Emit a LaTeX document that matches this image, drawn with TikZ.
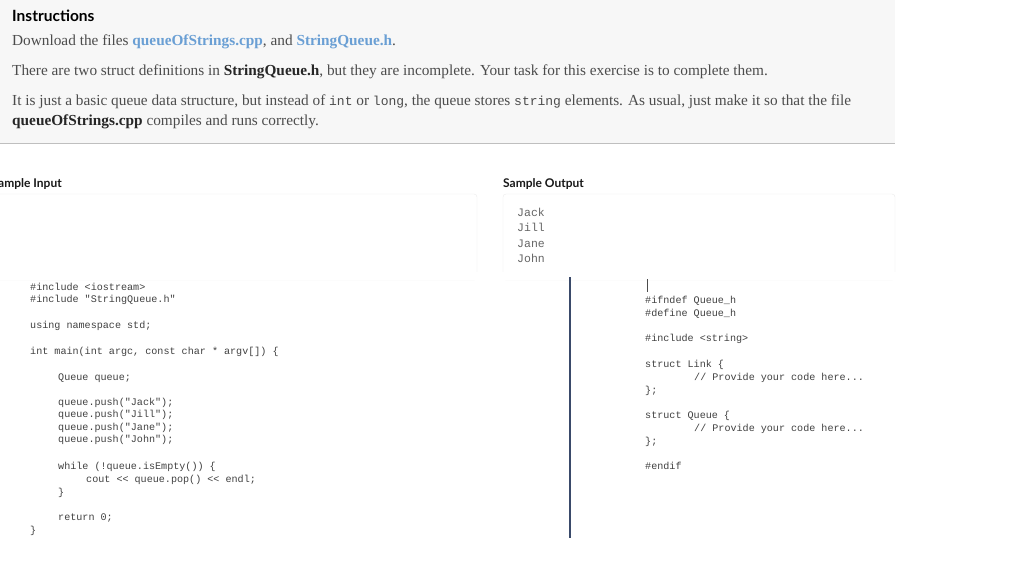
\documentclass[tikz,border=0pt]{standalone}
\usepackage{fontspec}
\setmainfont{Liberation Serif}
\newfontfamily\latofont{Lato}
\newfontfamily\codefont{Liberation Mono}
\begin{document}
\begin{tikzpicture}[x=1pt,y=-1pt,
  txt/.style={anchor=base west,inner sep=0pt,font=\fontsize{15.3}{17}\selectfont,text=black!70},
  hdr/.style={anchor=base west,inner sep=0pt,font=\latofont\bfseries\fontsize{12}{14}\selectfont,text=black!90},
  code/.style={anchor=base west,inner sep=0pt,font=\codefont\fontsize{10.1}{12}\selectfont,text=black!75},
  outc/.style={anchor=base west,inner sep=0pt,font=\codefont\fontsize{11.5}{13}\selectfont,text=black!60}]
\definecolor{linkc}{HTML}{6A9FD4}
\definecolor{panel}{HTML}{F7F7F7}
\definecolor{vline}{HTML}{3A4A6A}
\newcommand{\cd}[1]{{\codefont\fontsize{13}{14}\selectfont #1}}
\useasboundingbox (0,0) rectangle (1024,574);
\fill[white] (0,0) rectangle (1024,574);
\fill[panel] (0,0) rectangle (895,143);
\draw[black!25,line width=1pt] (0,143) -- (895,143);
\node[anchor=base west,inner sep=0pt,font=\latofont\bfseries\fontsize{15.5}{18}\selectfont] (t0) at (12,21) {Instructions};
\node[txt] (t1) at (12,45) {Download the files \textcolor{linkc}{\textbf{queueOfStrings.cpp}}, and \textcolor{linkc}{\textbf{StringQueue.h}}.};
\node[txt] (t2) at (12,75) {There are two struct definitions in \textbf{\color{black!85}StringQueue.h}, but they are incomplete. Your task for this exercise is to complete them.};
\node[txt] (t3) at (12,105) {It is just a basic queue data structure, but instead of \cd{int} or \cd{long}, the queue stores \cd{string} elements. As usual, just make it so that the file};
\node[txt] (t4) at (12,125) {\textbf{\color{black!85}queueOfStrings.cpp} compiles and runs correctly.};
\node[hdr] (h1) at (-2,187) {ample Input};
\node[hdr] (h2) at (503,187) {Sample Output};
\draw[black!8,rounded corners=3pt] (-5,194) rectangle (477,280);
\draw[black!8,rounded corners=3pt] (503,194) rectangle (895,280);
\fill[white] (0,272) rectangle (900,280);
\node[outc] (o1) at (517,216) {Jack};
\node[outc] (o2) at (517,231.5) {Jill};
\node[outc] (o3) at (517,247) {Jane};
\node[outc] (o4) at (517,262.5) {John};
\foreach \y/\s/\t in {290/30/{\#include <iostream>},302/30/{\#include "StringQueue.h"},328/30/{using namespace std;},354/30/{int main(int argc, const char * argv[]) \{},380/58/{Queue queue;},405/58/{queue.push("Jack");},417/58/{queue.push("Jill");},430/58/{queue.push("Jane");},442/58/{queue.push("John");},469/58/{while (!queue.isEmpty()) \{},482/86/{cout << queue.pop() << endl;},495/58/{\}},520/58/{return 0;},533/30/{\}}}
  \node[code] at (\s,\y) {\t};
\foreach \y/\s/\t in {303/645/{\#ifndef Queue\_h},316/645/{\#define Queue\_h},341/645/{\#include <string>},367/645/{struct Link \{},380/694/{// Provide your code here...},393/645/{\};},418/645/{struct Queue \{},431/694/{// Provide your code here...},444/645/{\};},469/645/{\#endif}}
  \node[code] at (\s,\y) {\t};
\draw[vline,line width=1.2pt] (570,277) coordinate (v1) -- (570,538) coordinate (v2);
\draw[black!70,line width=0.6pt] (647,279) coordinate (c1) -- (647,292) coordinate (c2);
\end{tikzpicture}
\end{document}
